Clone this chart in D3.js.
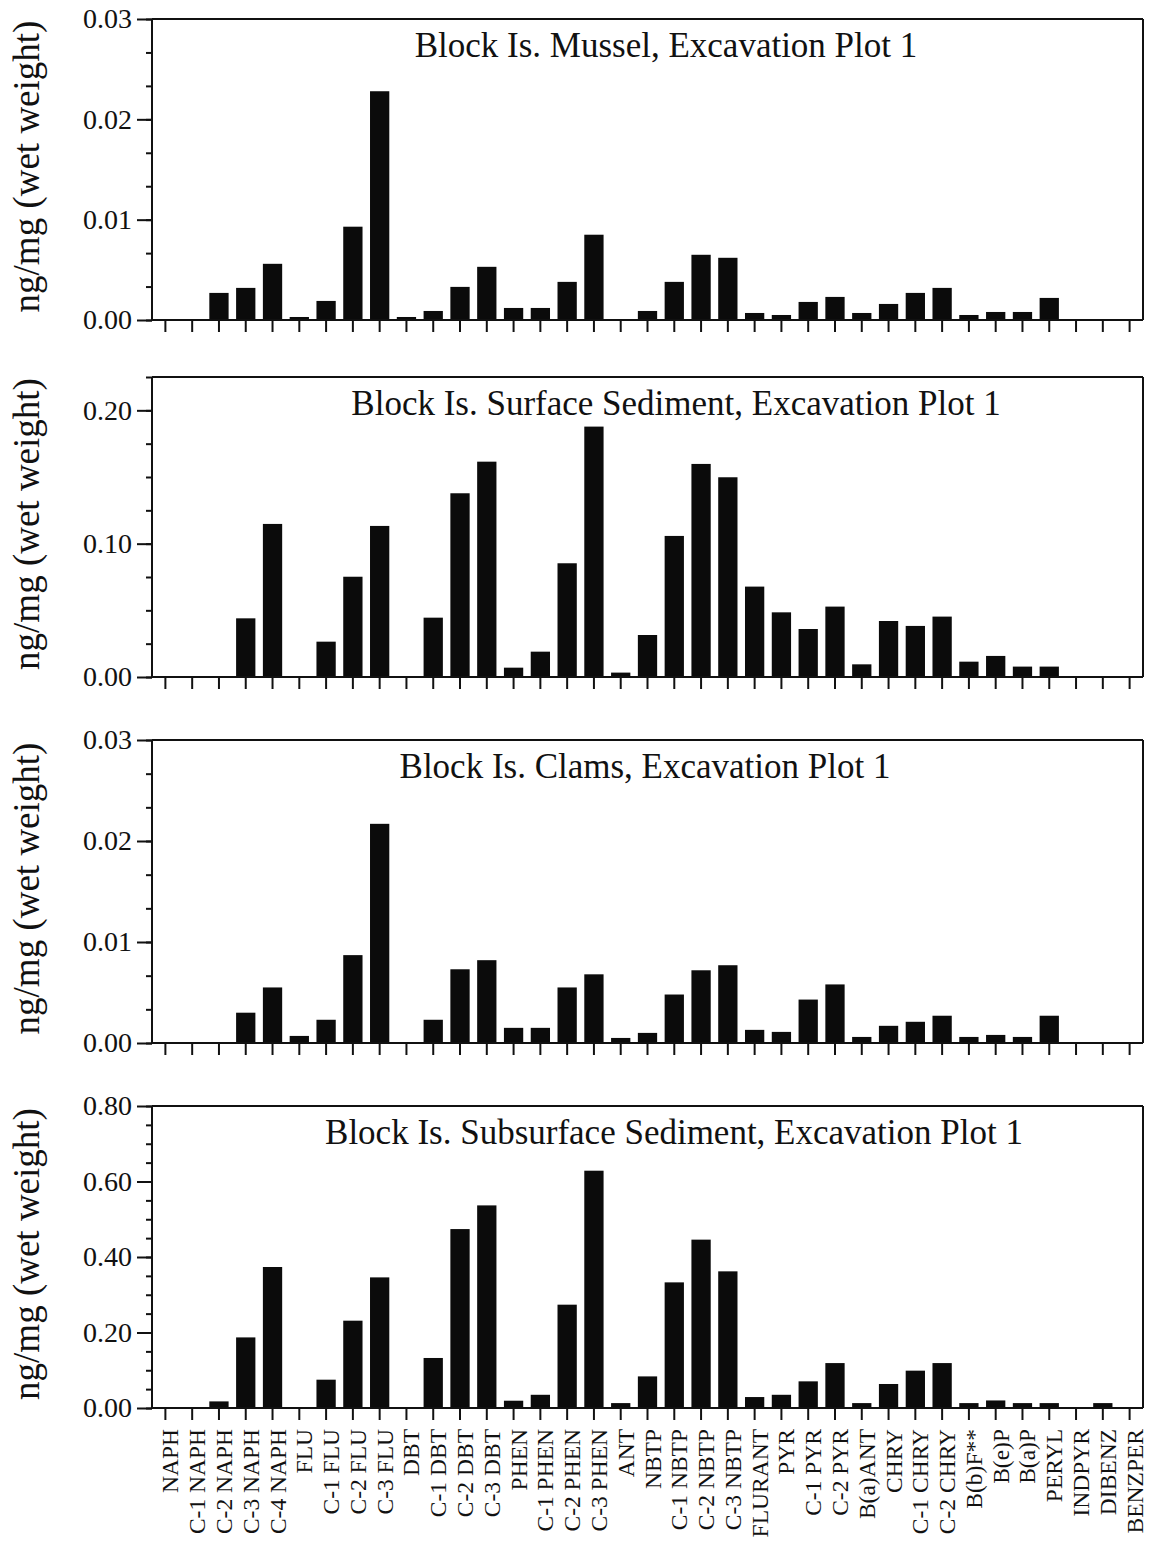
<!DOCTYPE html>
<html><head><meta charset="utf-8">
<script src="https://cdn.jsdelivr.net/npm/d3@7/dist/d3.min.js"></script>
<style>html,body{margin:0;padding:0;background:#fff;}svg{display:block;}</style>
</head><body>
<svg id="chart" width="1149" height="1552"></svg>
<script>
const categories = ["NAPH","C-1 NAPH","C-2 NAPH","C-3 NAPH","C-4 NAPH","FLU","C-1 FLU","C-2 FLU","C-3 FLU","DBT","C-1 DBT","C-2 DBT","C-3 DBT","PHEN","C-1 PHEN","C-2 PHEN","C-3 PHEN","ANT","NBTP","C-1 NBTP","C-2 NBTP","C-3 NBTP","FLURANT","PYR","C-1 PYR","C-2 PYR","B(a)ANT","CHRY","C-1 CHRY","C-2 CHRY","B(b)F**","B(e)P","B(a)P","PERYL","INDPYR","DIBENZ","BENZPER"];

const mussel = [0,0,0.0027,0.0032,0.0056,0.0003,0.0019,0.0093,0.0228,0.0003,0.0009,0.0033,0.0053,0.0012,0.0012,0.0038,0.0085,0,0.0009,0.0038,0.0065,0.0062,0.0007,0.0005,0.0018,0.0023,0.0007,0.0016,0.0027,0.0032,0.0005,0.0008,0.0008,0.0022,0,0,0];
const surfaceSediment = [0,0,0,0.044,0.1148,0,0.0265,0.0752,0.1133,0,0.0445,0.1378,0.1615,0.007,0.019,0.0853,0.1878,0.0033,0.0315,0.1058,0.1598,0.1498,0.0678,0.0485,0.036,0.0528,0.0095,0.042,0.0383,0.0453,0.0115,0.0158,0.0078,0.0078,0,0,0];
const clams = [0,0,0,0.0030,0.0055,0.0007,0.0023,0.0087,0.0217,0,0.0023,0.0073,0.0082,0.0015,0.0015,0.0055,0.0068,0.0005,0.001,0.0048,0.0072,0.0077,0.0013,0.0011,0.0043,0.0058,0.0006,0.0017,0.0021,0.0027,0.0006,0.0008,0.0006,0.0027,0,0,0];
const subsurfaceSediment = [0,0,0.0175,0.187,0.3735,0,0.075,0.2313,0.346,0,0.1325,0.474,0.5367,0.0193,0.035,0.2737,0.6286,0.013,0.0837,0.3328,0.446,0.362,0.029,0.035,0.0706,0.119,0.013,0.0636,0.0989,0.119,0.013,0.02,0.013,0.013,0,0.013,0];

const titles = ["Block Is. Mussel, Excavation Plot 1","Block Is. Surface Sediment, Excavation Plot 1","Block Is. Clams, Excavation Plot 1","Block Is. Subsurface Sediment, Excavation Plot 1"];
const yMax = [0.03, 0.225, 0.03, 0.80];
const yMajorTicks = [[0,0.01,0.02,0.03],[0,0.10,0.20],[0,0.01,0.02,0.03],[0,0.2,0.4,0.6,0.8]];
const yMinorStep = [0.01/3, 0.025, 0.01/3, 0.05];
const yTickLabels = [["0.00","0.01","0.02","0.03"],["0.00","0.10","0.20"],["0.00","0.01","0.02","0.03"],["0.00","0.20","0.40","0.60","0.80"]];
const yTitle = "ng/mg (wet weight)";
const series = [mussel, surfaceSediment, clams, subsurfaceSediment];

// layout (pixel geometry kept apart from data)
const layout = {
  left: 152, right: 1143,
  panels: [{top:19,bottom:320,titleX:666},{top:377,bottom:677,titleX:676},{top:740,bottom:1043,titleX:645},{top:1106,bottom:1408,titleX:674}]
};

const svg = d3.select("#chart");
const serif = "'Liberation Serif','Times New Roman',serif";

const x = d3.scaleBand().domain(categories).range([layout.left, layout.right]).paddingInner(0.28).paddingOuter(0.14);

series.forEach((vals, p) => {
  const P = layout.panels[p];
  const y = d3.scaleLinear().domain([0, yMax[p]]).range([P.bottom, P.top]);
  const g = svg.append("g");

  // bars
  g.selectAll("rect.bar").data(categories).join("rect")
    .attr("class","bar")
    .attr("x", d => x(d))
    .attr("width", x.bandwidth())
    .attr("y", (d,i) => y(vals[i]))
    .attr("height", (d,i) => Math.max(0, y(0) - y(vals[i])))
    .attr("fill", "#0b0b0b");

  // frame (top and right)
  g.append("line").attr("x1", layout.left).attr("x2", layout.right).attr("y1", P.top).attr("y2", P.top)
    .attr("stroke","#111").attr("stroke-width",2);
  g.append("line").attr("x1", layout.right).attr("x2", layout.right).attr("y1", P.top).attr("y2", P.bottom)
    .attr("stroke","#111").attr("stroke-width",2);

  // minor y ticks
  const minor = d3.range(0, yMax[p] + 1e-9, yMinorStep[p]);
  const yMinorAxis = d3.axisLeft(y).tickValues(minor).tickSize(6).tickFormat("");
  const gm = g.append("g").attr("transform", `translate(${layout.left},0)`).call(yMinorAxis);
  gm.select(".domain").remove();
  gm.selectAll("line").attr("stroke","#111").attr("stroke-width",2);

  // major y axis
  const yAxis = d3.axisLeft(y).tickValues(yMajorTicks[p]).tickSize(15).tickPadding(5)
    .tickFormat((d,i) => yTickLabels[p][i]);
  const gy = g.append("g").attr("transform", `translate(${layout.left},0)`).call(yAxis);
  gy.select(".domain").attr("stroke","#111").attr("stroke-width",2).attr("d", `M0,${P.top}V${P.bottom}`);
  gy.selectAll("line").attr("stroke","#111").attr("stroke-width",2);
  gy.selectAll("text").attr("font-family", serif).attr("font-size", 28).attr("fill","#111");

  // x axis
  const xAxis = d3.axisBottom(x).tickSize(12).tickFormat("");
  const gx = g.append("g").attr("transform", `translate(0,${P.bottom})`).call(xAxis);
  gx.select(".domain").attr("stroke","#111").attr("stroke-width",2).attr("d", `M${layout.left},0H${layout.right}`);
  gx.selectAll("line").attr("stroke","#111").attr("stroke-width",2);

  if (p === series.length - 1) {
    gx.selectAll(".tick").append("text")
      .attr("transform", "translate(13,21) rotate(-90)")
      .attr("text-anchor","end")
      .attr("font-family", serif).attr("font-size", 23.5).attr("fill","#111")
      .text(d => d);
  }

  // title
  g.append("text").attr("x", P.titleX).attr("y", P.top + 38)
    .attr("text-anchor","middle").attr("font-family", serif).attr("font-size", 35).attr("fill","#111")
    .text(titles[p]);

  // y axis title
  g.append("text")
    .attr("transform", `translate(39,${(P.top + P.bottom)/2 - 3}) rotate(-90)`)
    .attr("text-anchor","middle").attr("font-family", serif).attr("font-size", 37).attr("fill","#111")
    .text(yTitle);
});
</script>
</body></html>
